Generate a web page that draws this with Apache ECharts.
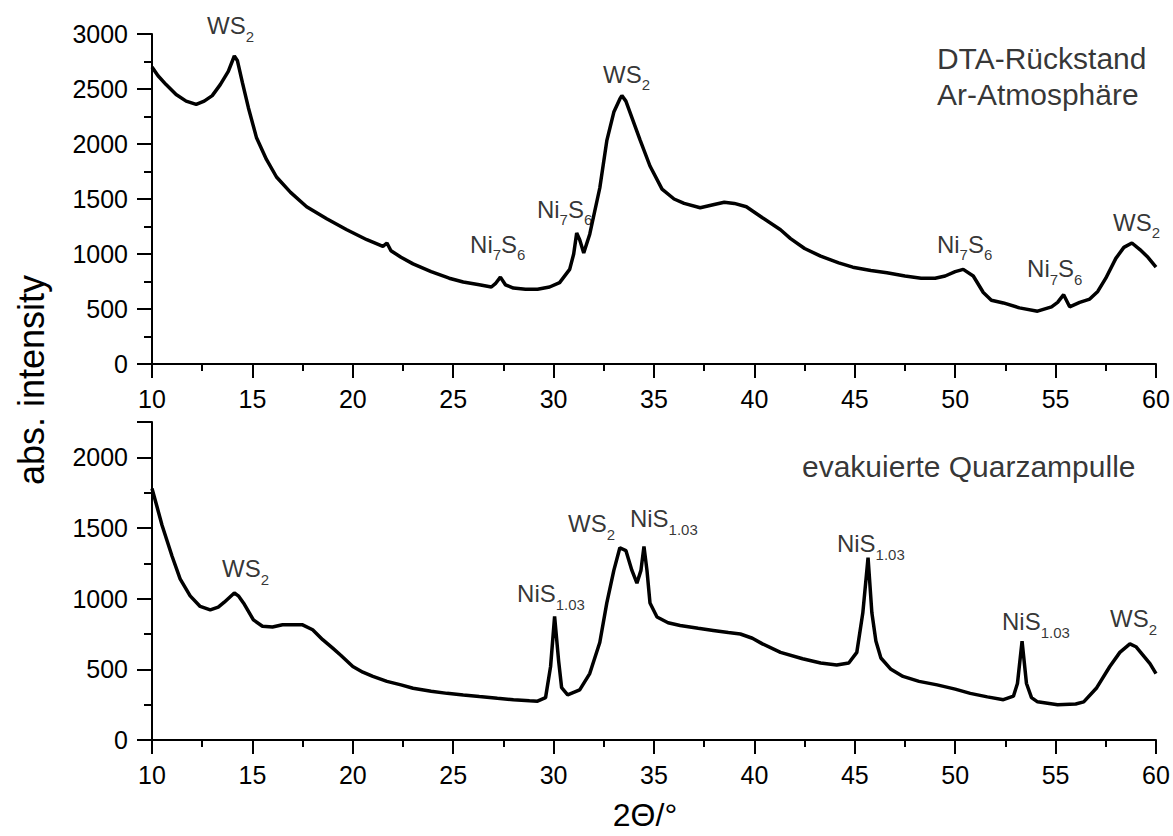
<!DOCTYPE html>
<html>
<head>
<meta charset="utf-8">
<script src="https://cdn.jsdelivr.net/npm/echarts@6/dist/echarts.min.js"></script>
<style>
html,body{margin:0;padding:0;background:#fff;}
#chart{width:1173px;height:836px;}
</style>
</head>
<body>
<div id="chart"></div>
<script>
// ---- data ----
var yTicksTop = [0, 500, 1000, 1500, 2000, 2500, 3000];
var yTicksBot = [0, 500, 1000, 1500, 2000];

// upper pattern: DTA-Rückstand, Ar-Atmosphäre
var topX = [10.0,10.3,10.7,11.2,11.7,12.2,12.6,13.0,13.4,13.8,14.1,14.25,14.5,14.8,15.2,15.7,16.2,16.9,17.7,18.7,19.7,20.7,21.5,21.7,21.9,22.4,23.0,23.9,24.8,25.5,26.3,26.9,27.1,27.35,27.6,28.0,28.6,29.2,29.8,30.3,30.8,31.0,31.15,31.3,31.5,31.8,32.3,32.65,33.0,33.3,33.4,33.6,33.8,34.3,34.8,35.4,36.0,36.5,37.3,38.0,38.5,39.0,39.6,40.4,41.3,41.8,42.5,43.3,44.2,44.9,45.8,46.6,47.5,48.3,49.0,49.5,50.0,50.4,50.9,51.4,51.8,52.4,53.2,54.1,54.8,55.1,55.4,55.7,56.2,56.7,57.1,57.5,58.0,58.4,58.8,59.2,59.6,60.0];
var topY = [2700,2620,2540,2450,2390,2360,2390,2440,2540,2660,2800,2760,2560,2330,2060,1860,1700,1560,1430,1320,1220,1130,1070,1100,1030,970,910,840,780,745,720,700,730,790,720,690,680,680,700,740,860,1000,1190,1130,1010,1180,1600,2030,2290,2410,2440,2390,2290,2040,1800,1590,1500,1460,1420,1450,1470,1460,1430,1330,1220,1140,1050,980,920,880,850,830,800,780,780,800,840,860,800,650,580,555,510,480,520,560,630,520,560,590,660,780,960,1060,1100,1040,970,880];

// lower pattern: evakuierte Quarzampulle
var botX = [10.0,10.25,10.5,10.75,11.0,11.4,11.9,12.4,12.9,13.3,13.6,14.1,14.3,14.6,15.05,15.5,16.0,16.5,17.0,17.5,18.0,18.5,19.0,19.4,20.0,20.5,21.0,21.7,22.4,23.0,23.9,24.7,25.5,26.3,27.2,28.0,28.8,29.2,29.6,29.85,30.05,30.25,30.4,30.7,31.3,31.8,32.3,32.65,33.0,33.3,33.6,33.9,34.15,34.35,34.5,34.65,34.8,35.15,35.7,36.3,37.2,37.95,38.7,39.3,39.9,40.4,41.3,42.4,43.3,44.1,44.7,45.1,45.4,45.66,45.85,46.05,46.3,46.8,47.4,48.2,49.1,50.0,50.75,51.6,52.4,52.9,53.1,53.33,53.55,53.8,54.1,55.1,56.0,56.4,57.05,57.7,58.2,58.7,59.0,59.35,59.7,60.0];
var botY = [1780,1650,1520,1410,1300,1140,1020,945,920,940,975,1040,1020,960,850,805,800,815,815,815,780,710,650,600,520,480,450,415,390,366,345,330,318,307,295,285,278,275,300,520,875,560,370,320,355,470,690,970,1200,1360,1340,1200,1110,1200,1370,1200,970,870,830,810,790,775,760,750,720,680,620,575,545,530,545,620,900,1290,900,700,580,500,450,415,390,360,330,305,285,310,400,700,400,300,270,250,255,270,370,520,620,680,660,600,540,470];

// peak annotations (data coordinates of the label's top-left corner)
var topLabelText = ['{m|WS}{s|2}', '{m|Ni}{s|7}{m|S}{s|6}', '{m|Ni}{s|7}{m|S}{s|6}', '{m|WS}{s|2}', '{m|Ni}{s|7}{m|S}{s|6}', '{m|Ni}{s|7}{m|S}{s|6}', '{m|WS}{s|2}'];
var topLabelX = [12.74, 25.84, 29.17, 32.46, 49.09, 53.58, 57.86];
var topLabelY = [3185, 1200, 1518, 2745, 1200, 973, 1400];

var botLabelText = ['{m|WS}{s|2}', '{m|NiS}{s|1.03}', '{m|WS}{s|2}', '{m|NiS}{s|1.03}', '{m|NiS}{s|1.03}', '{m|NiS}{s|1.03}', '{m|WS}{s|2}'];
var botLabelX = [13.49, 28.18, 30.72, 33.80, 44.11, 52.33, 57.71];
var botLabelY = [1296, 1119, 1615, 1650, 1473, 921, 942];

var topTitle = 'DTA-Rückstand\nAr-Atmosphäre';
var topTitleX = 49.09, topTitleY = 2945;
var botTitle = 'evakuierte Quarzampulle';
var botTitleX = 42.37, botTitleY = 2061;

var yName = 'abs. intensity';
var xName = '2\u0398/\u00b0';

// ---- chart ----
var FONT = '"Liberation Sans", Arial, Helvetica, sans-serif';
function pairs(xs, ys){ return xs.map(function(x, i){ return [x, ys[i]]; }); }
function labelData(xs, ys, ts){ return xs.map(function(x, i){ return {value: [x, ys[i]], name: ts[i]}; }); }

var rich = {
  m: {fontSize: 24, lineHeight: 24, verticalAlign: 'top', fontFamily: FONT, color: '#000'},
  s: {fontSize: 15, lineHeight: 18, padding: [15, 0, 0, 0], verticalAlign: 'top', fontFamily: FONT, color: '#000'}
};

function xAxis(gi){
  return {
    type: 'value', gridIndex: gi, min: 10, max: 60, interval: 5,
    axisLine: {show: true, onZero: false, lineStyle: {color: '#000', width: 2}},
    axisTick: {show: true, length: 14, lineStyle: {color: '#000', width: 2}},
    minorTick: {show: true, splitNumber: 2, length: 7, lineStyle: {color: '#000', width: 2}},
    axisLabel: {color: '#000', fontSize: 25, fontFamily: FONT, margin: 22,
                formatter: function(v){ return String(v); }},
    splitLine: {show: false}
  };
}
function yAxis(gi, max, ticks){
  return {
    type: 'value', gridIndex: gi, min: 0, max: max, interval: 500,
    axisLine: {show: true, lineStyle: {color: '#000', width: 2}},
    axisTick: {show: true, length: 15, lineStyle: {color: '#000', width: 2}},
    minorTick: {show: true, splitNumber: 2, length: 8, lineStyle: {color: '#000', width: 2}},
    axisLabel: {color: '#000', fontSize: 25, fontFamily: FONT, margin: 24,
                formatter: function(v){ return ticks.indexOf(v) >= 0 ? String(v) : ''; }},
    splitLine: {show: false}
  };
}
function labelSeries(xi, data, extraRich, fs){
  return {
    type: 'scatter', xAxisIndex: xi, yAxisIndex: xi, data: data,
    symbolSize: 1, itemStyle: {color: 'rgba(0,0,0,0)'}, clip: false, silent: true,
    label: {
      show: true, position: 'inside', align: 'left', verticalAlign: 'top',
      formatter: function(p){ return p.name; },
      color: '#000', fontFamily: FONT, fontSize: fs || 24, lineHeight: 36,
      rich: extraRich
    }
  };
}

var chart = echarts.init(document.getElementById('chart'), null, {renderer: 'svg'});
chart.setOption({
  animation: false,
  backgroundColor: '#fff',
  grid: [
    {left: 152, right: 17, top: 34, height: 330},
    {left: 152, right: 17, top: 422, height: 318}
  ],
  xAxis: [xAxis(0), xAxis(1)],
  yAxis: [yAxis(0, 3000, yTicksTop), yAxis(1, 2250, yTicksBot)],
  graphic: [
    {type: 'text', x: 31, y: 380, rotation: Math.PI / 2,
     style: {text: yName, font: '36px ' + FONT, fill: '#000', align: 'center', verticalAlign: 'middle'}},
    {type: 'text', x: 645, y: 815,
     style: {text: xName, font: '32px ' + FONT, fill: '#000', align: 'center', verticalAlign: 'middle'}}
  ],
  series: [
    {type: 'line', xAxisIndex: 0, yAxisIndex: 0, data: pairs(topX, topY), showSymbol: false, silent: true,
     lineStyle: {color: '#000', width: 3.5}},
    {type: 'line', xAxisIndex: 1, yAxisIndex: 1, data: pairs(botX, botY), showSymbol: false, silent: true,
     lineStyle: {color: '#000', width: 3.5}},
    labelSeries(0, labelData(topLabelX, topLabelY, topLabelText), rich),
    labelSeries(1, labelData(botLabelX, botLabelY, botLabelText), rich),
    labelSeries(0, [{value: [topTitleX, topTitleY], name: topTitle}], null, 30),
    labelSeries(1, [{value: [botTitleX, botTitleY], name: botTitle}], null, 30)
  ]
});
</script>
</body>
</html>
